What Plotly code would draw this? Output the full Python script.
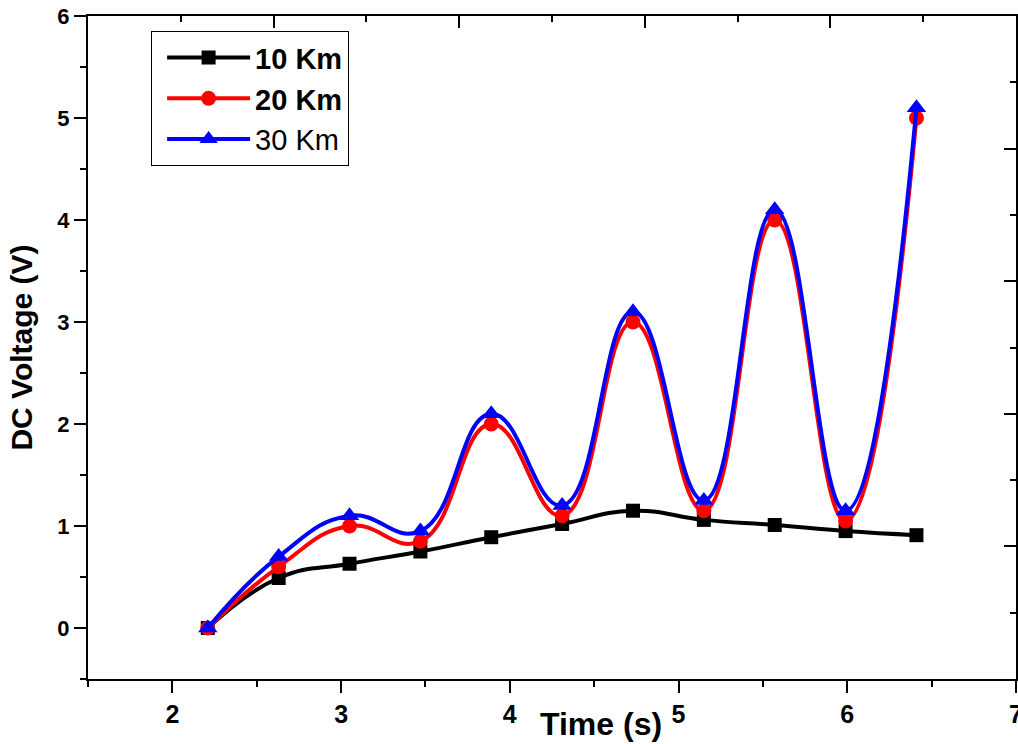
import plotly.graph_objects as go

# ---- data ----
time_s = [2.21, 2.63, 3.05, 3.47, 3.89, 4.31, 4.73, 5.15, 5.57, 5.99, 6.41]
v_10km = [0.0, 0.49, 0.63, 0.75, 0.89, 1.02, 1.15, 1.06, 1.01, 0.95, 0.91]
v_20km = [0.0, 0.60, 1.00, 0.85, 2.00, 1.10, 3.00, 1.15, 4.00, 1.05, 5.00]
v_30km = [0.0, 0.70, 1.10, 0.95, 2.10, 1.20, 3.10, 1.25, 4.10, 1.15, 5.10]

series_names = ["<b>10 Km</b>", "<b>20 Km</b>", "30 Km"]
x_ticks = [2, 3, 4, 5, 6, 7]
y_ticks = [0, 1, 2, 3, 4, 5, 6]

FONT = "Liberation Sans, Arial, sans-serif"

fig = go.Figure()
styles = [
    (v_10km, series_names[0], "black", "square", 14),
    (v_20km, series_names[1], "red", "circle", 15),
    (v_30km, series_names[2], "blue", "triangle-up", 17),
]
for vals, name, col, sym, ms in styles:
    fig.add_trace(go.Scatter(
        x=time_s, y=vals, name=name, mode="lines+markers",
        line=dict(color=col, width=4, shape="spline", smoothing=1.3),
        marker=dict(color=col, symbol=sym, size=ms),
    ))

# empty trace so the mirrored top/right frame axes get drawn
fig.add_trace(go.Scatter(x=[], y=[], xaxis="x2", yaxis="y2",
                         showlegend=False, hoverinfo="skip"))

axis_common = dict(showline=True, linecolor="black", linewidth=2,
                   showgrid=False, zeroline=False, mirror=False,
                   automargin=False)

fig.update_layout(
    width=1018, height=744,
    paper_bgcolor="white", plot_bgcolor="white",
    margin=dict(l=88, r=2, t=16, b=65),
    font=dict(family=FONT, color="black"),
    showlegend=True,
    legend=dict(x=0.068, y=0.977, xanchor="left", yanchor="top",
                bordercolor="black", borderwidth=1, bgcolor="white",
                font=dict(size=29, family=FONT, color="black"),
                itemwidth=83, indentation=10, tracegroupgap=0),
    xaxis=dict(range=[1.5, 7], tickmode="array", tickvals=x_ticks,
               ticktext=[f"<b>{t}</b>" for t in x_ticks],
               ticks="outside", ticklen=12, tickwidth=2, tickcolor="black",
               ticklabeloverflow="allow",
               tickfont=dict(size=25, family=FONT, color="black"),
               minor=dict(ticks="outside", ticklen=6, tickwidth=2, dtick=0.5,
                          tick0=1.5, tickcolor="black", showgrid=False),
               **axis_common),
    yaxis=dict(range=[-0.5, 6], tickmode="array", tickvals=y_ticks,
               ticktext=[f"<b>{t}</b>" for t in y_ticks],
               ticks="outside", ticklen=12, tickwidth=2, tickcolor="black",
               ticklabeloverflow="allow",
               tickfont=dict(size=22, family=FONT, color="black"),
               minor=dict(ticks="outside", ticklen=6, tickwidth=2, dtick=0.5,
                          tick0=-0.5, tickcolor="black", showgrid=False),
               title=dict(text="<b>DC Voltage (V)</b>", standoff=16,
                          font=dict(size=30, family=FONT, color="black")),
               **axis_common),
    xaxis2=dict(overlaying="x", side="top", anchor="y2", range=[0, 5], dtick=1,
                ticks="inside", ticklen=12, tickwidth=2, tickcolor="black",
                showticklabels=False,
                minor=dict(ticks="inside", ticklen=6, tickwidth=2, dtick=0.5,
                           tickcolor="black", showgrid=False),
                **axis_common),
    yaxis2=dict(overlaying="y", side="right", anchor="x2", range=[0, 5], dtick=1,
                ticks="inside", ticklen=12, tickwidth=2, tickcolor="black",
                showticklabels=False,
                minor=dict(ticks="inside", ticklen=6, tickwidth=2, dtick=0.5,
                           tickcolor="black", showgrid=False),
                **axis_common),
    annotations=[dict(text="<b>Time (s)</b>", xref="paper", yref="paper",
                      x=0.553, y=-0.068, xanchor="center", yanchor="middle",
                      showarrow=False,
                      font=dict(size=32, family=FONT, color="black"))],
)

# remove the page's default body margin so the figure fills the window exactly
fig.write_html("out.html",
               config={"displayModeBar": False},
               post_script="document.body.style.margin='0';document.body.style.overflow='hidden';")
